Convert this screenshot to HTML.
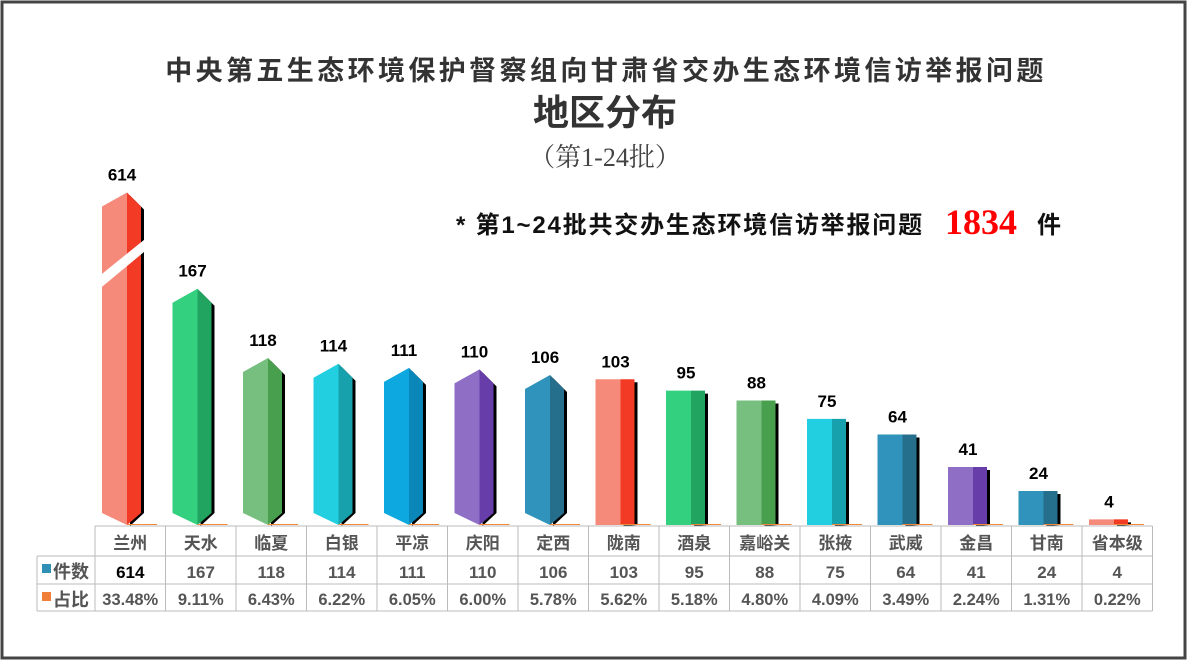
<!DOCTYPE html>
<html><head><meta charset="utf-8">
<style>
html,body{margin:0;padding:0;background:#fff;}
svg{display:block;}
text{font-family:"Liberation Sans","Noto Sans CJK SC",sans-serif;}
</style></head>
<body>
<svg id="chart" width="1188" height="661" viewBox="0 0 1188 661" xmlns="http://www.w3.org/2000/svg">
<rect x="2" y="2" width="1183" height="656" fill="#fff" stroke="#444" stroke-width="3"/>
<text x="606" y="80" text-anchor="middle" font-size="27" font-weight="bold" fill="#333" letter-spacing="3.4">中央第五生态环境保护督察组向甘肃省交办生态环境信访举报问题</text>
<text x="605" y="125" text-anchor="middle" font-size="36" font-weight="bold" fill="#333">地区分布</text>
<text x="605" y="166" text-anchor="middle" font-size="26" fill="#444" style="font-family:'Liberation Serif','Noto Serif CJK SC',serif">（第1-24批）</text>
<text x="456" y="233" font-size="24" font-weight="bold" fill="#111" letter-spacing="1.8">* 第1~24批共交办生态环境信访举报问题</text>
<text x="945" y="234" font-size="36" font-weight="bold" fill="#f00" style="font-family:'Liberation Serif',serif">1834</text>
<text x="1037" y="233" font-size="24" font-weight="bold" fill="#111">件</text>
<g id="bars"></g>
<g id="table"></g>
</svg>
<script>
const categories=["兰州","天水","临夏","白银","平凉","庆阳","定西","陇南","酒泉","嘉峪关","张掖","武威","金昌","甘南","省本级"];
const counts=[614,167,118,114,111,110,106,103,95,88,75,64,41,24,4];
const shares=["33.48%","9.11%","6.43%","6.22%","6.05%","6.00%","5.78%","5.62%","5.18%","4.80%","4.09%","3.49%","2.24%","1.31%","0.22%"];
const palette=[["#f58a7a","#f23a25"],["#33d17f","#22a461"],["#77bf7f","#48a04e"],["#22cfe0","#17a1ad"],["#0ea8e0","#0a86b8"],["#8f6fc6","#673ea9"],["#2f93bb","#266f8c"],["#f58a7a","#f23a25"],["#33d17f","#22a461"],["#77bf7f","#48a04e"],["#22cfe0","#17a1ad"],["#2f93bb","#266f8c"],["#8f6fc6","#673ea9"],["#2f93bb","#266f8c"],["#f58a7a","#f23a25"]];
const NS="http://www.w3.org/2000/svg";
const base=525, scale=1.415, colX0=95, colW=70.5, cap=235;
function xCol(i){return colX0+i*colW;}
function yVal(v){return base-Math.min(v,cap)*scale;}
function mk(tag,attrs,parent){const e=document.createElementNS(NS,tag);for(const k in attrs)e.setAttribute(k,attrs[k]);parent.appendChild(e);return e;}
const bars=document.getElementById('bars');
counts.forEach((v,i)=>{
  const g=mk('g',{},bars);
  
  
  const x=xCol(i)+7, wl=25, wr=14, top=yVal(v);
  const pointed=i<7;
  const c=palette[i];
  const sh=pointed?14:0;
  const bsh=pointed?12:0;
  const mx=x+wl, rx=x+wl+wr;
  mk('polygon',{points:`${mx+3},${top+3} ${rx+3},${top+sh+3} ${rx+3},${base-bsh} ${mx+3},${base+1}`,fill:'#000'},g);
  mk('polygon',{points:`${x},${top+sh} ${mx},${top} ${mx},${base} ${x},${base-bsh}`,fill:c[0]},g);
  mk('polygon',{points:`${mx},${top} ${rx},${top+sh} ${rx},${base-bsh} ${mx},${base}`,fill:c[1]},g);
  if(v>cap){
    mk('polygon',{points:`${x-2},${top+83} ${rx+6},${top+45} ${rx+6},${top+57} ${x-2},${top+96}`,fill:'#fff'},g);
  }
  mk('line',{x1:mx,y1:base-0.5,x2:xCol(i)+62,y2:base-0.5,stroke:'#f08a3a','stroke-width':1},g);
  const t=mk('text',{x:x+20,y:top-12,'text-anchor':'middle','font-size':17,'font-weight':'bold',fill:'#000'},g);
  t.textContent=v;
  
  
});
const tb=document.getElementById('table');
const rows=[526,556,584,611];
const L=37,R=xCol(15);
mk('line',{x1:colX0,y1:rows[0],x2:R,y2:rows[0],stroke:'#bbb'},tb);
for(let r=1;r<4;r++)mk('line',{x1:L,y1:rows[r],x2:R,y2:rows[r],stroke:'#bbb'},tb);
mk('line',{x1:L,y1:rows[1],x2:L,y2:rows[3],stroke:'#bbb'},tb);
for(let i=0;i<=15;i++)mk('line',{x1:xCol(i),y1:rows[0],x2:xCol(i),y2:rows[3],stroke:'#bbb'},tb);
mk('rect',{x:42,y:564,width:9,height:9,fill:'#2f8fb5'},tb);
mk('rect',{x:42,y:592,width:9,height:9,fill:'#f07f3a'},tb);
let h1=mk('text',{x:53,y:578,'font-size':18,'font-weight':'bold',fill:'#555'},tb);h1.textContent='件数';

let h2=mk('text',{x:53,y:606,'font-size':18,'font-weight':'bold',fill:'#555'},tb);h2.textContent='占比';

categories.forEach((c,i)=>{
  const cx=xCol(i)+colW/2;
  let t=mk('text',{x:cx,y:549,'text-anchor':'middle','font-size':17,'font-weight':'bold',fill:'#555'},tb);t.textContent=c;
  
  t=mk('text',{x:cx,y:578,'text-anchor':'middle','font-size':17,'font-weight':'bold',fill:i===0?'#000':'#555'},tb);t.textContent=counts[i];
  
  t=mk('text',{x:cx,y:605,'text-anchor':'middle','font-size':16.5,'font-weight':'bold',fill:'#555'},tb);t.textContent=shares[i];
  
});
</script>
</body></html>
